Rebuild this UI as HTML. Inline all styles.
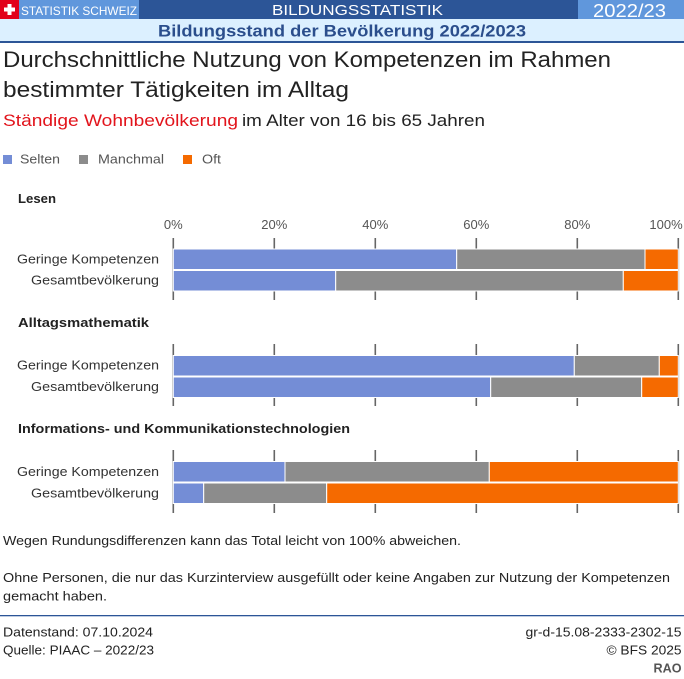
<!DOCTYPE html>
<html><head><meta charset="utf-8"><style>
html,body{margin:0;padding:0;background:#fff;}
svg{display:block;}
text{font-family:"Liberation Sans",sans-serif;}
</style></head><body>
<svg width="684" height="679" viewBox="0 0 684 679" xmlns="http://www.w3.org/2000/svg">
<!-- header -->
<rect x="0" y="0" width="684" height="19" fill="#2c5597"/>
<rect x="19" y="0" width="120" height="19" fill="#6097dc"/>
<rect x="578" y="0" width="106" height="19" fill="#6097dc"/>
<rect x="0" y="0" width="19" height="19" fill="#e2001a"/>
<rect x="4" y="7.5" width="11" height="4" fill="#fff"/>
<rect x="7.5" y="4" width="4" height="11" fill="#fff"/>
<text x="21" y="15" font-size="12" fill="#fff" textLength="116" lengthAdjust="spacingAndGlyphs">STATISTIK SCHWEIZ</text>
<text x="272" y="15" font-size="15" fill="#fff" textLength="171" lengthAdjust="spacingAndGlyphs">BILDUNGSSTATISTIK</text>
<text x="593" y="17" font-size="18" fill="#fff" textLength="73" lengthAdjust="spacingAndGlyphs">2022/23</text>
<rect x="0" y="19" width="684" height="22" fill="#dcf0ff"/>
<rect x="0" y="41" width="684" height="2" fill="#2c5597"/>
<text x="158" y="36.5" font-size="16.5" font-weight="bold" fill="#2b4e8c" textLength="368" lengthAdjust="spacingAndGlyphs">Bildungsstand der Bevölkerung 2022/2023</text>

<!-- title -->
<text x="3" y="67" font-size="22" fill="#222" textLength="608" lengthAdjust="spacingAndGlyphs">Durchschnittliche Nutzung von Kompetenzen im Rahmen</text>
<text x="3" y="97" font-size="22" fill="#222" textLength="346" lengthAdjust="spacingAndGlyphs">bestimmter Tätigkeiten im Alltag</text>
<text x="3" y="126" font-size="17" fill="#e2141c" textLength="235" lengthAdjust="spacingAndGlyphs">Ständige Wohnbevölkerung</text>
<text x="242" y="126" font-size="17" fill="#222" textLength="243" lengthAdjust="spacingAndGlyphs">im Alter von 16 bis 65 Jahren</text>

<!-- legend -->
<rect x="3" y="155" width="9" height="9" fill="#748dd6"/>
<text x="20" y="163.5" font-size="13" fill="#555" textLength="40" lengthAdjust="spacingAndGlyphs">Selten</text>
<rect x="79" y="155" width="9" height="9" fill="#8c8c8c"/>
<text x="98" y="163.5" font-size="13" fill="#555" textLength="66" lengthAdjust="spacingAndGlyphs">Manchmal</text>
<rect x="183" y="155" width="9" height="9" fill="#f56a00"/>
<text x="202" y="163.5" font-size="13" fill="#555" textLength="19" lengthAdjust="spacingAndGlyphs">Oft</text>

<!-- Section headers -->
<text x="18" y="203" font-size="13" font-weight="bold" fill="#222" textLength="38" lengthAdjust="spacingAndGlyphs">Lesen</text>
<text x="18" y="327" font-size="13" font-weight="bold" fill="#222" textLength="131" lengthAdjust="spacingAndGlyphs">Alltagsmathematik</text>
<text x="18" y="433" font-size="13" font-weight="bold" fill="#222" textLength="332" lengthAdjust="spacingAndGlyphs">Informations- und Kommunikationstechnologien</text>

<!-- tick labels -->
<g font-size="13" fill="#555" text-anchor="middle">
<text x="173.3" y="229">0%</text>
<text x="274.3" y="229">20%</text>
<text x="375.3" y="229">40%</text>
<text x="476.3" y="229">60%</text>
<text x="577.3" y="229">80%</text>
<text x="666" y="229">100%</text>
</g>

<!-- gridlines -->
<g stroke="#666" stroke-width="1.6">
<line x1="173.3" y1="238" x2="173.3" y2="300"/><line x1="274.3" y1="238" x2="274.3" y2="300"/><line x1="375.3" y1="238" x2="375.3" y2="300"/><line x1="476.3" y1="238" x2="476.3" y2="300"/><line x1="577.3" y1="238" x2="577.3" y2="300"/><line x1="678.3" y1="238" x2="678.3" y2="300"/>
<line x1="173.3" y1="344" x2="173.3" y2="406"/><line x1="274.3" y1="344" x2="274.3" y2="406"/><line x1="375.3" y1="344" x2="375.3" y2="406"/><line x1="476.3" y1="344" x2="476.3" y2="406"/><line x1="577.3" y1="344" x2="577.3" y2="406"/><line x1="678.3" y1="344" x2="678.3" y2="406"/>
<line x1="173.3" y1="450" x2="173.3" y2="513"/><line x1="274.3" y1="450" x2="274.3" y2="513"/><line x1="375.3" y1="450" x2="375.3" y2="513"/><line x1="476.3" y1="450" x2="476.3" y2="513"/><line x1="577.3" y1="450" x2="577.3" y2="513"/><line x1="678.3" y1="450" x2="678.3" y2="513"/>
</g>

<!-- bars -->
<g stroke="#fff" stroke-width="1">
<!-- Lesen -->
<rect x="173.3" y="249" width="283.4" height="20.5" fill="#748dd6"/>
<rect x="456.7" y="249" width="188.3" height="20.5" fill="#8c8c8c"/>
<rect x="645" y="249" width="33.3" height="20.5" fill="#f56a00"/>
<rect x="173.3" y="270.5" width="162.4" height="20.5" fill="#748dd6"/>
<rect x="335.7" y="270.5" width="287.6" height="20.5" fill="#8c8c8c"/>
<rect x="623.3" y="270.5" width="55" height="20.5" fill="#f56a00"/>
<!-- Alltag -->
<rect x="173.3" y="355.5" width="401" height="20.5" fill="#748dd6"/>
<rect x="574.3" y="355.5" width="85" height="20.5" fill="#8c8c8c"/>
<rect x="659.3" y="355.5" width="19" height="20.5" fill="#f56a00"/>
<rect x="173.3" y="377" width="317.4" height="20.5" fill="#748dd6"/>
<rect x="490.7" y="377" width="151" height="20.5" fill="#8c8c8c"/>
<rect x="641.7" y="377" width="36.6" height="20.5" fill="#f56a00"/>
<!-- ICT -->
<rect x="173.3" y="461.5" width="111.7" height="20.5" fill="#748dd6"/>
<rect x="285" y="461.5" width="204.3" height="20.5" fill="#8c8c8c"/>
<rect x="489.3" y="461.5" width="189" height="20.5" fill="#f56a00"/>
<rect x="173.3" y="483" width="30.4" height="20.5" fill="#748dd6"/>
<rect x="203.7" y="483" width="123" height="20.5" fill="#8c8c8c"/>
<rect x="326.7" y="483" width="351.6" height="20.5" fill="#f56a00"/>
</g>

<!-- category labels -->
<g font-size="13" fill="#333" text-anchor="end">
<text x="159" y="263.5" textLength="142" lengthAdjust="spacingAndGlyphs">Geringe Kompetenzen</text>
<text x="159" y="284.5" textLength="128" lengthAdjust="spacingAndGlyphs">Gesamtbevölkerung</text>
<text x="159" y="369.5" textLength="142" lengthAdjust="spacingAndGlyphs">Geringe Kompetenzen</text>
<text x="159" y="391" textLength="128" lengthAdjust="spacingAndGlyphs">Gesamtbevölkerung</text>
<text x="159" y="476" textLength="142" lengthAdjust="spacingAndGlyphs">Geringe Kompetenzen</text>
<text x="159" y="497.5" textLength="128" lengthAdjust="spacingAndGlyphs">Gesamtbevölkerung</text>
</g>

<!-- notes -->
<g font-size="13" fill="#222">
<text x="3" y="545" textLength="458" lengthAdjust="spacingAndGlyphs">Wegen Rundungsdifferenzen kann das Total leicht von 100% abweichen.</text>
<text x="3" y="582" textLength="667" lengthAdjust="spacingAndGlyphs">Ohne Personen, die nur das Kurzinterview ausgefüllt oder keine Angaben zur Nutzung der Kompetenzen</text>
<text x="3" y="600.5" textLength="104" lengthAdjust="spacingAndGlyphs">gemacht haben.</text>
</g>
<rect x="0" y="615" width="684" height="1.3" fill="#2c5597"/>
<g font-size="13" fill="#222">
<text x="3" y="636.5" textLength="150" lengthAdjust="spacingAndGlyphs">Datenstand: 07.10.2024</text>
<text x="3" y="654.5" textLength="151" lengthAdjust="spacingAndGlyphs">Quelle: PIAAC – 2022/23</text>
<text x="681.5" y="636.5" text-anchor="end" textLength="156" lengthAdjust="spacingAndGlyphs">gr-d-15.08-2333-2302-15</text>
<text x="681.5" y="654.5" text-anchor="end" textLength="75" lengthAdjust="spacingAndGlyphs">© BFS 2025</text>
</g>
<text x="681.5" y="672.5" text-anchor="end" font-size="13" font-weight="bold" fill="#555" textLength="28" lengthAdjust="spacingAndGlyphs">RAO</text>
</svg>
</body></html>
